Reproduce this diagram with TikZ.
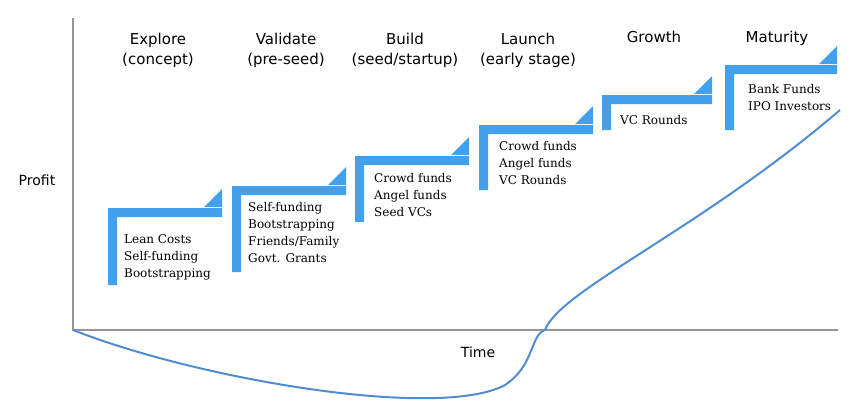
\documentclass[tikz,border=0pt]{standalone}
\usepackage{fontspec}
\newfontfamily\headfont{DejaVu Sans}
\newfontfamily\fundfont{DejaVu Serif}
\definecolor{stepblue}{RGB}{66,160,236}
\definecolor{curveblue}{RGB}{80,140,210}
\definecolor{axisgrey}{RGB}{150,150,150}
\begin{document}
\begin{tikzpicture}[x=1pt,y=-1pt,
    stage/.style={font=\headfont\fontsize{15}{20}\selectfont, align=center},
    funds/.style={font=\fundfont\fontsize{12}{17}\selectfont, align=left, anchor=north west, inner sep=0pt},
    axislabel/.style={font=\headfont\fontsize{14}{16}\selectfont}]
  \useasboundingbox (0,0) rectangle (850,410);

  % axes
  \coordinate (o) at (73,330);
  \coordinate (ytop) at (73,18);
  \coordinate (xend) at (838,330);
  \draw [axisgrey, line width=1.5pt] (ytop) -- (o) -- (xend);
  \node (profit) [axislabel] at (37,180) {Profit};
  \node (time)   [axislabel] at (478,352) {Time};

  % stage headings
  \foreach \x/\txt in {158/{Explore\\(concept)}, 286/{Validate\\(pre-seed)}, 405/{Build\\(seed/startup)},
                       528/{Launch\\(early stage)}, 654/{Growth\\\strut}, 777/{Maturity\\\strut}}
    \node [stage] at (\x,50) {\txt};

  % steps
  \foreach \x/\y/\len/\w in {108/208/285/114, 232/186/272/114, 355/156/222/114,
                             479/125/190/114, 602/95/130/110, 725/65/130/112} {
    \fill [stepblue] (\x,\y) -- ++(\w,0) -- ++(0,9) -- (\x+9,\y+9) -- (\x+9,\len) -- (\x,\len) -- cycle;
    \fill [stepblue] (\x+\w,\y-1) -- ++(0,-18) -- ++(-18,18) -- cycle;
  }
  \node (s1) [funds] at (124,234) {Lean Costs\\Self-funding\\Bootstrapping};
  \node (s2) [funds] at (248,202) {Self-funding\\Bootstrapping\\Friends/Family\\Govt. Grants};
  \node (s3) [funds] at (374,173) {Crowd funds\\Angel funds\\Seed VCs};
  \node (s4) [funds] at (499,141) {Crowd funds\\Angel funds\\VC Rounds};
  \node (s5) [funds] at (620,115) {VC Rounds};
  \node (s6) [funds] at (748,84)  {Bank Funds\\IPO Investors};

  % profit curve
  \coordinate (c1) at (545,330);
  \coordinate (c2) at (840,110);
  \draw [curveblue, line width=2pt]
    (o) .. controls (200,380) and (440,420) .. (505,385)
        .. controls (535,365) and (530,335) .. (c1)
        .. controls (560,290) and (700,230) .. (c2);
\end{tikzpicture}
\end{document}
